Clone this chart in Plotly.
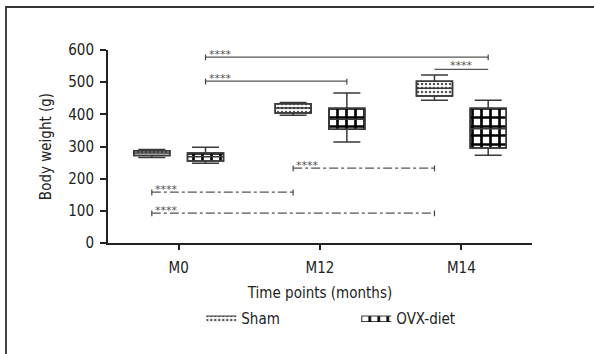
import plotly.graph_objects as go

categories = ["M0", "M12", "M14"]
groups = ["Sham", "OVX-diet"]

# box statistics per group: lower whisker, q1, median, q3, upper whisker
sham_lower = [266, 397, 444]
sham_q1 = [272, 404, 457]
sham_median = [280, 420, 481]
sham_q3 = [287, 433, 503]
sham_upper = [291, 437, 522]

ovx_lower = [248, 314, 273]
ovx_q1 = [255, 354, 295]
ovx_median = [268, 385, 355]
ovx_q3 = [280, 419, 419]
ovx_upper = [298, 466, 444]

y_ticks = [0, 100, 200, 300, 400, 500, 600]

# significance brackets: (group_start, cat_start, group_end, cat_end, y, style, label, end_ticks)
brackets = [
    ("OVX-diet", 0, "OVX-diet", 2, 578, "solid", "****", True),
    ("OVX-diet", 0, "OVX-diet", 1, 503, "solid", "****", True),
    ("Sham", 2, "OVX-diet", 2, 540, "solid", "****", False),
    ("Sham", 1, "Sham", 2, 233, "dashdot", "****", True),
    ("Sham", 0, "Sham", 1, 158, "dashdot", "****", True),
    ("Sham", 0, "Sham", 2, 93, "dashdot", "****", True),
]

OFF = {"Sham": -0.19, "OVX-diet": 0.19}
BW = 0.255
LINE = "#3a3a3a"
FONT = "DejaVu Sans Condensed, Liberation Sans Narrow, sans-serif"

fig = go.Figure()

stats = {
    "Sham": (sham_lower, sham_q1, sham_median, sham_q3, sham_upper),
    "OVX-diet": (ovx_lower, ovx_q1, ovx_median, ovx_q3, ovx_upper),
}
patterns = {
    "Sham": dict(shape=".", fgcolor="#555555", bgcolor="white", size=4, solidity=0.3,
                 fgopacity=1, fillmode="replace"),
    "OVX-diet": dict(shape="+", fgcolor="#000000", bgcolor="white", size=9, solidity=0.5,
                     fgopacity=1, fillmode="replace"),
}

for g in groups:
    lo, q1, med, q3, hi = stats[g]
    xs = [i + OFF[g] for i in range(len(categories))]
    fig.add_trace(go.Bar(
        x=xs, y=[b - a for a, b in zip(q1, q3)], base=q1, width=BW, name=g,
        marker=dict(color="white", pattern=patterns[g], line=dict(color=LINE, width=1.5)),
        showlegend=False,
    ))
for g in groups:
    lo, q1, med, q3, hi = stats[g]
    xs = [i + OFF[g] for i in range(len(categories))]
    fig.add_trace(go.Box(
        x=xs, q1=q1, median=med, q3=q3, lowerfence=lo, upperfence=hi,
        width=BW, whiskerwidth=0.75, fillcolor="rgba(0,0,0,0)",
        line=dict(color=LINE, width=1.5), showlegend=False, hoverinfo="skip",
    ))
# legend entries (wide patterned swatches)
for g in groups:
    fig.add_trace(go.Scatter(
        x=[None], y=[None], mode="lines", fill="toself", name=g,
        fillcolor="white", fillpattern=patterns[g],
        line=dict(color=LINE, width=1), showlegend=True, hoverinfo="skip",
    ))

for gs, cs, ge, ce, yv, style, lab, ticks in brackets:
    x0 = cs + OFF[gs]
    x1 = ce + OFF[ge]
    fig.add_shape(type="line", x0=x0, x1=x1, y0=yv, y1=yv, xref="x", yref="y",
                  line=dict(color="#555555", width=1.2, dash=style))
    if ticks:
        for xx in (x0, x1):
            fig.add_shape(type="line", x0=xx, x1=xx, y0=yv - 10, y1=yv + 8, xref="x", yref="y",
                          line=dict(color="#444444", width=1.2))
        fig.add_annotation(x=x0, y=yv, xref="x", yref="y", text=lab, showarrow=False,
                           xanchor="left", yanchor="bottom", xshift=1, yshift=-6,
                           font=dict(family="DejaVu Sans", size=11, color="#555555"))
    else:
        fig.add_annotation(x=(x0 + x1) / 2, y=yv, xref="x", yref="y", text=lab, showarrow=False,
                           xanchor="center", yanchor="bottom", yshift=-5,
                           font=dict(family="DejaVu Sans", size=11, color="#555555"))

# outer frame
fig.add_shape(type="rect", xref="paper", yref="paper",
              x0=-0.2406, x1=1.2, y0=-0.65, y1=1.2228,
              line=dict(color="#333333", width=1.8), fillcolor="rgba(0,0,0,0)", layer="below")

fig.update_layout(
    width=594, height=354,
    margin=dict(l=108, r=62, t=50, b=111, autoexpand=False),
    plot_bgcolor="white", paper_bgcolor="white",
    barmode="overlay",
    font=dict(family=FONT, size=15, color="#222222"),
    xaxis=dict(range=[-0.5, 2.5], tickvals=list(range(len(categories))), ticktext=categories,
               showgrid=False, zeroline=False, showline=True, linecolor="#222222", linewidth=2,
               ticks="outside", ticklen=5, tickwidth=2, tickcolor="#222222",
               tickfont=dict(size=15), ticklabelstandoff=5,
               title=dict(text="Time points (months)", standoff=11, font=dict(size=15))),
    yaxis=dict(range=[0, 600], tickvals=y_ticks, showgrid=False, zeroline=False,
               showline=True, linecolor="#222222", linewidth=2,
               ticks="outside", ticklen=6, tickwidth=2, tickcolor="#222222",
               tickfont=dict(size=15), ticklabelstandoff=3,
               title=dict(text="Body weight (g)", standoff=13, font=dict(size=15))),
    legend=dict(orientation="h", x=0.22, xanchor="left", y=-0.39, yanchor="middle",
                entrywidth=110, entrywidthmode="pixels", font=dict(size=15),
                bgcolor="rgba(0,0,0,0)"),
)

fig.write_html("out.html")
